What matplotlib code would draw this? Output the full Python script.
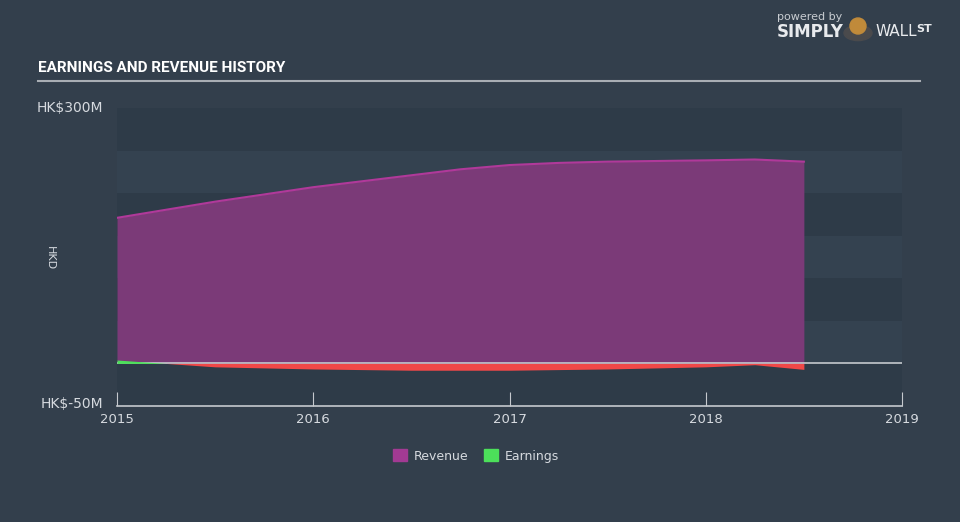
import matplotlib.pyplot as plt
from matplotlib.patches import Patch, Circle, Ellipse

# Values (HK$ millions)
years = [2015, 2015.5, 2016, 2016.5, 2016.75, 2017, 2017.25, 2017.5, 2018, 2018.25, 2018.5]
revenue = [171, 190, 207, 221, 228, 233, 235.5, 237, 238.5, 239.5, 237]
earn_years = [2015, 2015.25, 2015.5, 2016, 2016.5, 2017, 2017.5, 2018, 2018.25, 2018.5]
earnings = [4, 0, -4, -6.5, -8, -8, -6.5, -4, -1.5, -7]
x_ticks = [2015, 2016, 2017, 2018, 2019]
y_min, y_max = -50, 300

bg = "#333f4c"
txt = "#d6dadf"

fig = plt.figure(figsize=(9.6, 5.22), dpi=100, facecolor=bg)
ax = fig.add_axes([117 / 960, 1 - 406 / 522, 785 / 960, 298 / 522])
ax.set_facecolor("#344250")

# alternating bands every 50M
for lo in range(y_min, y_max, 50):
    if (lo // 50) % 2 == 1 or lo < 0:
        ax.axhspan(lo, lo + 50, color="#2e3b48", lw=0, zorder=0)

# revenue area
ax.fill_between(years, 0, revenue, color="#7b3a78", lw=0, zorder=2)
ax.plot(years, revenue, color="#b0399a", lw=1.5, zorder=3)

# zero line
ax.axhline(0, color="#c5c9ce", lw=1.2, zorder=3)

# earnings area
ax.fill_between(earn_years, 0, earnings, where=[e >= 0 for e in earnings],
                interpolate=True, color="#4ce05a", lw=0, zorder=4)
ax.fill_between(earn_years, 0, earnings, where=[e <= 0 for e in earnings],
                interpolate=True, color="#f04848", lw=0, zorder=4)

ax.set_xlim(2015, 2019)
ax.set_ylim(y_min, y_max)
for s in ["top", "right", "left"]:
    ax.spines[s].set_visible(False)
ax.spines["bottom"].set_color("#c5c9ce")
ax.spines["bottom"].set_linewidth(1.2)
ax.set_xticks(x_ticks)
ax.set_xticklabels([str(t) for t in x_ticks])
ax.tick_params(axis="x", direction="in", length=10, color="#c5c9ce",
               labelcolor=txt, labelsize=9.5, pad=5)
ax.set_yticks([])

# y labels
fig.text(103 / 960, 1 - 108 / 522, "HK$300M", color=txt, fontsize=10,
         ha="right", va="center")
fig.text(103 / 960, 1 - 404 / 522, "HK$-50M", color=txt, fontsize=10,
         ha="right", va="center")
fig.text(50 / 960, 1 - 258 / 522, "HKD", color=txt, fontsize=8,
         ha="center", va="center", rotation=270)

# title and underline
fig.text(38 / 960, 1 - 68 / 522, "EARNINGS AND REVENUE HISTORY", color="white",
         fontsize=11, fontweight="bold", family=["Roboto", "DejaVu Sans"],
         va="center")
fig.add_artist(plt.Line2D([38 / 960, 920 / 960], [1 - 81 / 522, 1 - 81 / 522],
                          color="#a9aeb4", lw=1.5))

# branding
fig.text(777 / 960, 1 - 17 / 522, "powered by", color="#c8ccd1", fontsize=8,
         va="center")
fig.text(777 / 960, 1 - 32 / 522, "SIMPLY", color="#e8eaed", fontsize=12,
         fontweight="bold", va="center")
fig.add_artist(Circle((858 / 960, 1 - 33 / 522), 14 / 960, color="#4a4a4c",
                      transform=fig.transFigure))
fig.add_artist(Ellipse((858 / 960, 1 - 26 / 522), 16 / 960, 16 / 522,
                       color="#c08a3a", transform=fig.transFigure))
fig.text(876 / 960, 1 - 32 / 522, "WALL", color="#e8eaed", fontsize=11,
         va="center")
fig.text(916 / 960, 1 - 29 / 522, "ST", color="#e8eaed", fontsize=8,
         fontweight="bold", va="center")

# legend
handles = [Patch(color="#a23a93", label="Revenue"),
           Patch(color="#4ce05a", label="Earnings")]
leg = fig.legend(handles=handles, loc="center", bbox_to_anchor=(476 / 960, 1 - 456 / 522),
                 ncol=2, frameon=False, fontsize=9, handlelength=1.1,
                 handleheight=1.1, columnspacing=1.3, handletextpad=0.5)
for t in leg.get_texts():
    t.set_color(txt)

fig.savefig("out.png", dpi=100, facecolor=bg)
